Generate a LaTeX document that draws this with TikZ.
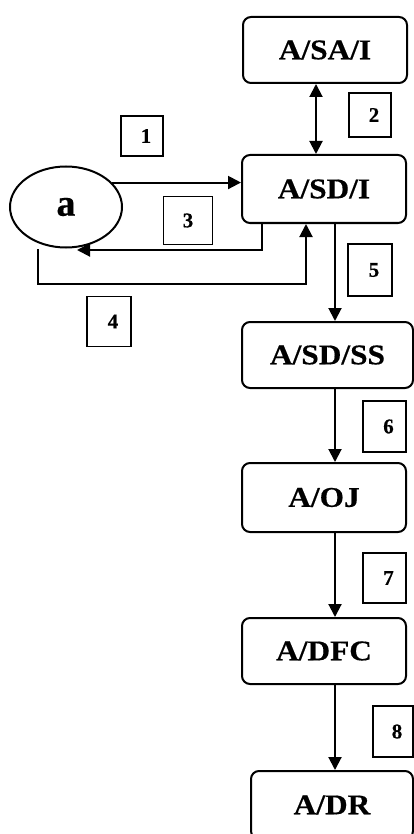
\documentclass[tikz,border=0pt]{standalone}
\usepackage{fontspec}
\setmainfont{Liberation Serif}
\newfontfamily\widefont[FakeStretch=1.1,FakeBold=0.5]{Liberation Serif}
\newfontfamily\labfont[FakeBold=0.4]{Liberation Serif}
\usetikzlibrary{arrows.meta,shapes.geometric}
\newcommand{\rdig}[1]{\hspace*{8pt}#1}
\begin{document}
\begin{tikzpicture}[x=1pt,y=-1pt,
  stage/.style={draw, line width=2pt, rounded corners=8pt, inner sep=0pt,
    font=\widefont\fontsize{28.5}{28.5}\selectfont\bfseries},
  lab/.style={draw, line width=1.8pt, inner sep=0pt,
    font=\labfont\fontsize{21}{21}\selectfont\bfseries},
  conn/.style={line width=2pt, -{Triangle[length=13pt,width=13pt]}},
  biconn/.style={line width=2pt, {Triangle[length=13pt,width=13pt]}-{Triangle[length=13pt,width=13pt]}}
]
\clip (0,0) rectangle (414,834);
% main boxes
\node[stage, minimum width=164pt, minimum height=66pt] (sai) at (325,50) {A/SA/I};
\node[stage, minimum width=164pt, minimum height=68pt] (sdi) at (324,189) {A/SD/I};
\node[stage, minimum width=171pt, minimum height=66pt] (sdss) at (327.5,355) {A/SD/SS};
\node[stage, minimum width=164pt, minimum height=69pt] (oj) at (324,497.5) {A/OJ};
\node[stage, minimum width=164pt, minimum height=66pt] (dfc) at (324,651) {A/DFC};
\node[stage, minimum width=162pt, minimum height=68pt] (dr) at (332,805) {A/DR};
% ellipse
\node[draw, ellipse, line width=2pt, inner sep=0pt, minimum width=112pt, minimum height=81pt,
  font=\labfont\fontsize{38}{38}\selectfont\bfseries] (a) at (66,207) {a};
% labels
\node[lab, minimum width=42pt, minimum height=40pt] (n1) at (142,136) {\rdig{1}};
\node[lab, minimum width=42pt, minimum height=44pt] (n2) at (370,115) {\rdig{2}};
\node[lab, minimum width=49pt, minimum height=48pt] (n3) at (188,220.5) {3};
\node[lab, minimum width=44pt, minimum height=50pt] (n4) at (109,321.5) {\rdig{4}};
\node[lab, minimum width=44pt, minimum height=52pt] (n5) at (370,270) {\rdig{5}};
\node[lab, minimum width=43pt, minimum height=51pt] (n6) at (384.5,426.5) {\rdig{6}};
\node[lab, minimum width=43pt, minimum height=50pt] (n7) at (384.5,578) {\rdig{7}};
\node[lab, minimum width=40pt, minimum height=51pt] (n8) at (393,731.5) {\rdig{8}};
% helper coordinates
\coordinate (x2) at (316,0);
\coordinate (x5) at (335,0);
\coordinate (t3) at (77,250);
\coordinate (s4) at (38,249);
\coordinate (c4) at (306,284);
% connectors
\draw[conn] (a.28) -- (a.28 -| sdi.west);
\draw[biconn] (sai.south -| x2) -- (sdi.north -| x2);
\draw[conn] ([xshift=-62pt]sdi.south) |- (t3);
\draw[conn] (s4) |- (c4) -- (c4 |- sdi.south);
\draw[conn] (sdi.south -| x5) -- (sdss.north -| x5);
\draw[conn] (sdss.south -| x5) -- (oj.north -| x5);
\draw[conn] (oj.south -| x5) -- (dfc.north -| x5);
\draw[conn] (dfc.south -| x5) -- (dr.north -| x5);
\end{tikzpicture}
\end{document}
